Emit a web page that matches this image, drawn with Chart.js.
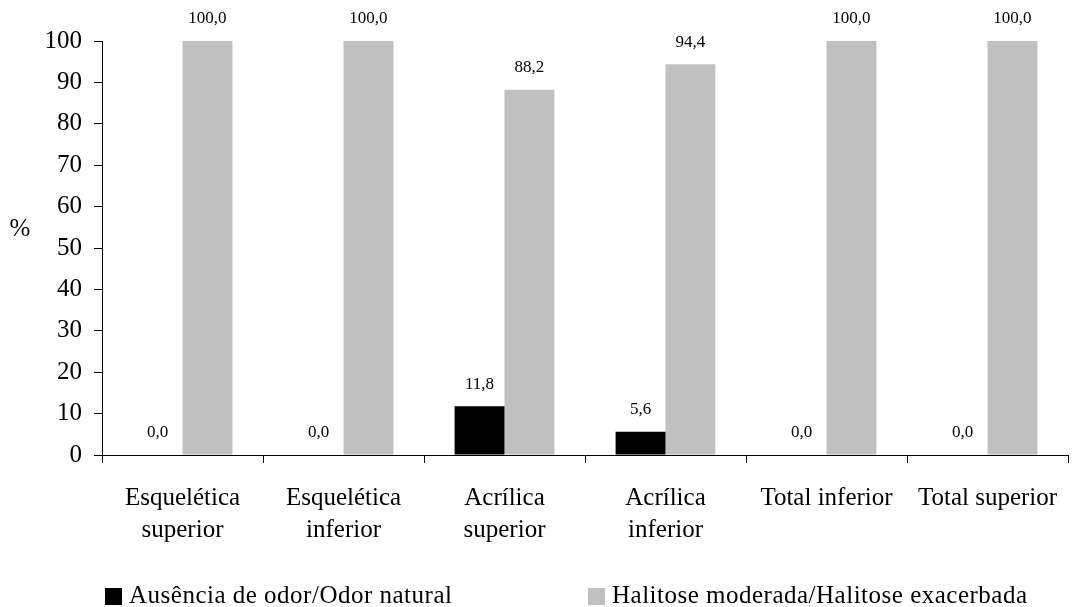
<!DOCTYPE html>
<html>
<head>
<meta charset="utf-8">
<script src="https://cdn.jsdelivr.net/npm/chart.js@4.4.1/dist/chart.umd.min.js"></script>
<style>
  html, body { margin: 0; padding: 0; background: #ffffff; }
  #wrap { width: 1072px; height: 607px; position: relative; }
</style>
</head>
<body>
<div id="wrap"><canvas id="c" width="1072" height="607"></canvas></div>
<script>
// Prosthesis groups (two-line labels) and the percentage of each odour class
const categories = [
  ['Esquelética', 'superior'],
  ['Esquelética', 'inferior'],
  ['Acrílica', 'superior'],
  ['Acrílica', 'inferior'],
  'Total inferior',
  'Total superior'
];
const seriesNames = ['Ausência de odor/Odor natural', 'Halitose moderada/Halitose exacerbada'];
const ausenciaOdor = [0.0, 0.0, 11.8, 5.6, 0.0, 0.0];
const halitose = [100.0, 100.0, 88.2, 94.4, 100.0, 100.0];
const yTicks = [0, 10, 20, 30, 40, 50, 60, 70, 80, 90, 100];

const FONT = '"Liberation Serif", "Times New Roman", serif';
const seriesColors = ['#000000', '#c0c0c0'];

// Value labels above each bar, written with a decimal comma
const valueLabels = {
  id: 'valueLabels',
  afterDatasetsDraw(chart) {
    const ctx = chart.ctx;
    ctx.save();
    ctx.font = '17px ' + FONT;
    ctx.fillStyle = '#000';
    ctx.textAlign = 'center';
    ctx.textBaseline = 'middle';
    chart.data.datasets.forEach((ds, i) => {
      chart.getDatasetMeta(i).data.forEach((bar, j) => {
        const txt = ds.data[j].toFixed(1).replace('.', ',');
        ctx.fillText(txt, bar.x, bar.y - 22);
      });
    });
    ctx.restore();
  }
};

// Horizontal "%" axis caption
const axisCaption = {
  id: 'axisCaption',
  afterDraw(chart) {
    const ctx = chart.ctx;
    ctx.save();
    ctx.font = '25px ' + FONT;
    ctx.fillStyle = '#000';
    ctx.textAlign = 'center';
    ctx.textBaseline = 'middle';
    ctx.fillText('%', 20, 229);
    ctx.restore();
  }
};

// Two-column legend along the bottom edge
const bottomLegend = {
  id: 'bottomLegend',
  afterDraw(chart) {
    const ctx = chart.ctx;
    const area = chart.chartArea;
    ctx.save();
    ctx.font = '25px ' + FONT;
    ctx.textBaseline = 'alphabetic';
    ctx.textAlign = 'left';
    if ('letterSpacing' in ctx) ctx.letterSpacing = '0.5px';
    chart.data.datasets.forEach((ds, i) => {
      const x = area.left + 3 + i * (area.width / 2);
      ctx.fillStyle = ds.backgroundColor;
      ctx.fillRect(x, 588, 17, 17);
      ctx.fillStyle = '#000';
      ctx.fillText(ds.label, x + 24, 603);
    });
    ctx.restore();
  }
};

new Chart(document.getElementById('c'), {
  type: 'bar',
  data: {
    labels: categories,
    datasets: [
      { label: seriesNames[0], data: ausenciaOdor, backgroundColor: seriesColors[0] },
      { label: seriesNames[1], data: halitose, backgroundColor: seriesColors[1] }
    ]
  },
  options: {
    responsive: false,
    animation: false,
    events: [],
    layout: { padding: { left: 0, right: 4, top: 41, bottom: 52 } },
    datasets: { bar: { categoryPercentage: 0.62, barPercentage: 1.0 } },
    plugins: {
      legend: { display: false },
      tooltip: { enabled: false }
    },
    scales: {
      x: {
        offset: true,
        grid: {
          display: true,
          offset: true,
          drawOnChartArea: false,
          drawTicks: true,
          tickLength: 8,
          color: '#000'
        },
        border: { display: true, color: '#000', width: 1 },
        ticks: {
          color: '#000',
          font: { family: FONT, size: 25, lineHeight: 1.28 },
          maxRotation: 0,
          autoSkip: false,
          padding: 19
        },
        afterFit(scale) {
          scale.height = 100;
          scale.paddingLeft = 0;
          scale.paddingRight = 0;
        }
      },
      y: {
        min: 0,
        max: 100,
        afterBuildTicks(scale) { scale.ticks = yTicks.map(v => ({ value: v })); },
        grid: {
          display: true,
          drawOnChartArea: false,
          drawTicks: true,
          tickLength: 8,
          color: '#000'
        },
        border: { display: true, color: '#000', width: 1 },
        ticks: {
          color: '#000',
          font: { family: FONT, size: 25 },
          padding: 12
        },
        afterFit(scale) { scale.width = 102; }
      }
    }
  },
  plugins: [valueLabels, axisCaption, bottomLegend]
});
</script>
</body>
</html>
